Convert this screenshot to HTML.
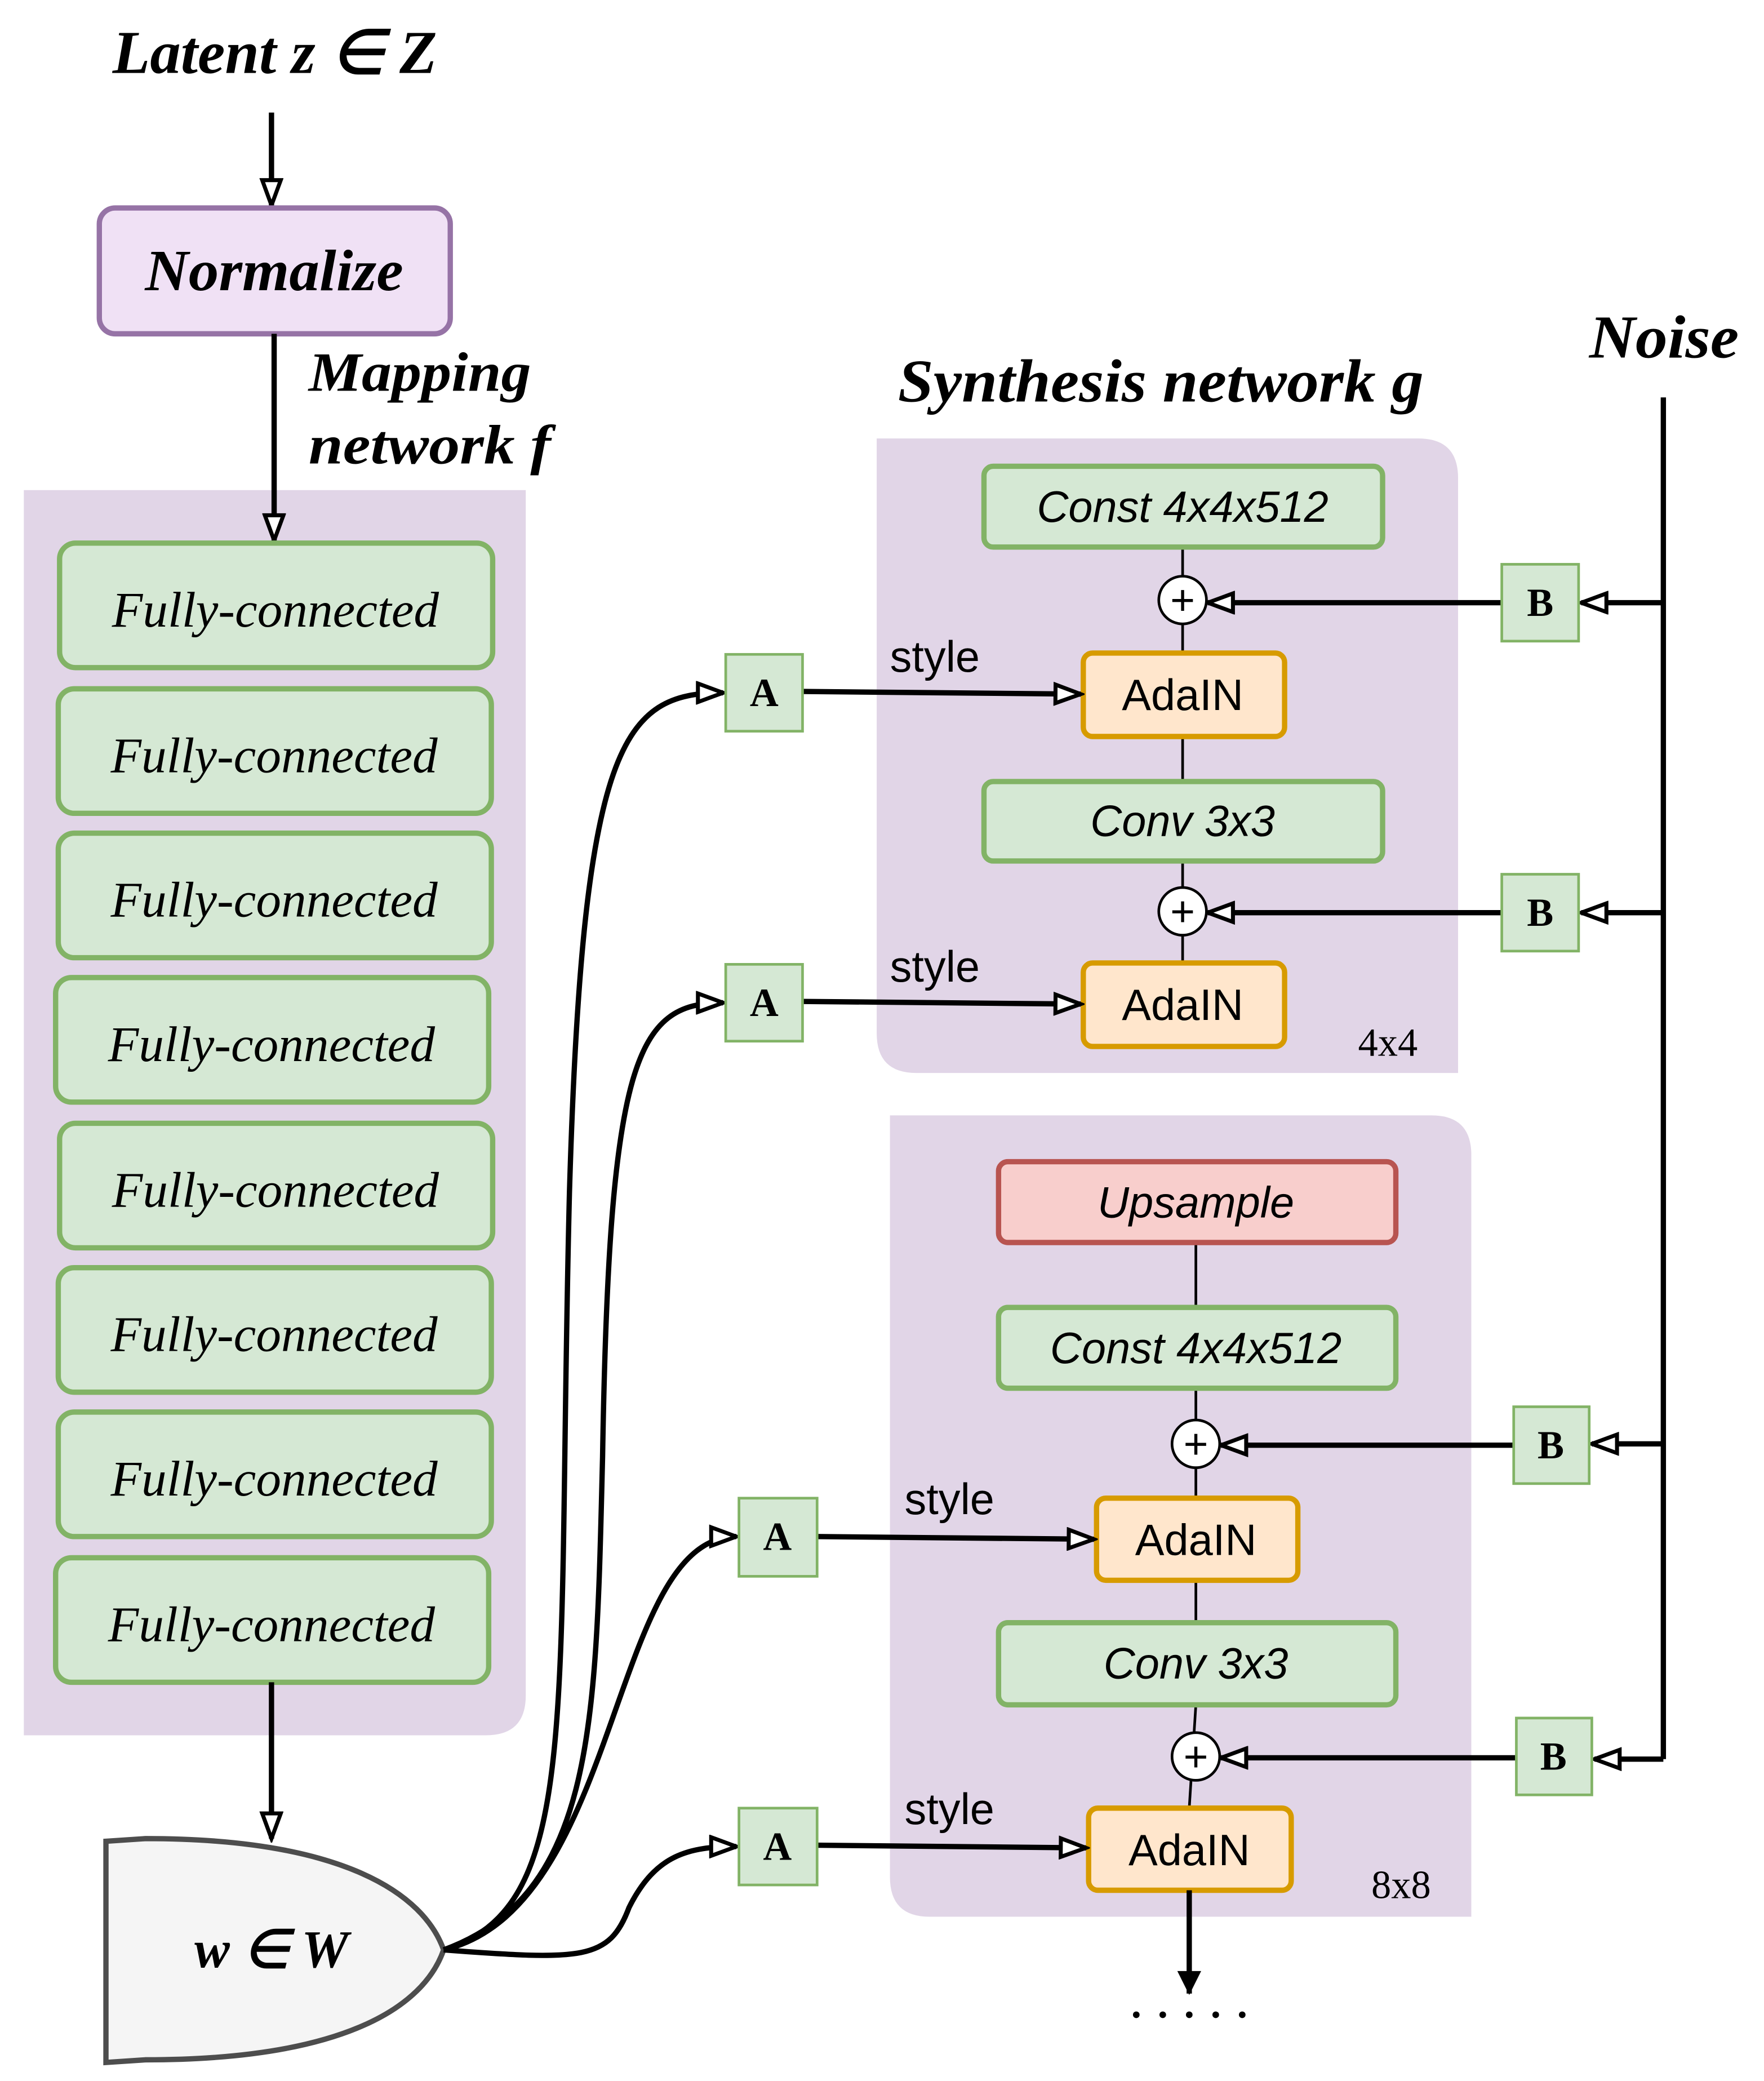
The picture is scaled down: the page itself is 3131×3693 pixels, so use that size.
<!DOCTYPE html>
<html><head><meta charset="utf-8"><style>
html,body{margin:0;padding:0;background:#fff;}
svg{display:block;}
.serif{font-family:"Liberation Serif",serif;}
.sans{font-family:"Liberation Sans",sans-serif;}
</style></head><body>
<svg width="3131" height="3693" viewBox="0 0 1332 1571" preserveAspectRatio="none" xmlns="http://www.w3.org/2000/svg">
<defs>
<marker id="oa2" markerWidth="24" markerHeight="18" refX="21" refY="9" orient="auto" markerUnits="userSpaceOnUse" viewBox="0 0 24 18">
<path d="M2,2 L21,9 L2,16 Z" fill="#fff" stroke="#000" stroke-width="3"/></marker>
<marker id="fa" markerWidth="20" markerHeight="22" refX="18" refY="11" orient="auto" markerUnits="userSpaceOnUse" viewBox="0 0 20 22">
<path d="M1,2 L19,11 L1,20 Z" fill="#000"/></marker>
</defs>
<g class="serif" font-weight="bold" font-style="italic" font-size="46">
<text x="85" y="55" textLength="245" lengthAdjust="spacingAndGlyphs">Latent z ∈ Z</text>
<text x="678" y="303" textLength="397" lengthAdjust="spacingAndGlyphs">Synthesis network g</text>
<text x="1200" y="270" textLength="113" lengthAdjust="spacingAndGlyphs">Noise</text>
</g>
<g class="serif" font-weight="bold" font-style="italic" font-size="42">
<text x="233" y="295" textLength="168" lengthAdjust="spacingAndGlyphs">Mapping</text>
<text x="233" y="350" textLength="183" lengthAdjust="spacingAndGlyphs">network f</text>
</g>
<line x1="205" y1="85" x2="205" y2="155" stroke="#000" stroke-width="4" marker-end="url(#oa2)"/>
<rect x="75" y="157" width="265" height="95" rx="12" fill="#f0e1f5" stroke="#9673a6" stroke-width="4"/>
<text x="207" y="219" text-anchor="middle" class="serif" font-weight="bold" font-style="italic" font-size="44" textLength="195" lengthAdjust="spacingAndGlyphs">Normalize</text>
<path d="M18,370 H397 V1280 Q397,1310 367,1310 H18 Z" fill="#e1d5e7"/>
<line x1="207" y1="252" x2="207" y2="408" stroke="#000" stroke-width="4" marker-end="url(#oa2)"/>
<g fill="#d5e8d4" stroke="#82b366" stroke-width="4">
<rect x="45" y="410" width="327" height="94" rx="12"/>
<rect x="44" y="520" width="327" height="94" rx="12"/>
<rect x="44" y="629" width="327" height="94" rx="12"/>
<rect x="42" y="738" width="327" height="94" rx="12"/>
<rect x="45" y="848" width="327" height="94" rx="12"/>
<rect x="44" y="957" width="327" height="94" rx="12"/>
<rect x="44" y="1066" width="327" height="94" rx="12"/>
<rect x="42" y="1176" width="327" height="94" rx="12"/>
</g>
<g class="serif" font-style="italic" font-size="38" text-anchor="middle">
<text x="208" y="473">Fully-connected</text>
<text x="207" y="583">Fully-connected</text>
<text x="207" y="692">Fully-connected</text>
<text x="205" y="801">Fully-connected</text>
<text x="208" y="911">Fully-connected</text>
<text x="207" y="1020">Fully-connected</text>
<text x="207" y="1129">Fully-connected</text>
<text x="205" y="1239">Fully-connected</text>
</g>
<line x1="205" y1="1270" x2="205" y2="1388" stroke="#000" stroke-width="4" marker-end="url(#oa2)"/>
<path d="M80,1390 L110,1388 C260,1388 320,1430 335,1472 C320,1515 260,1555 110,1555 L80,1557 Z" fill="#f5f5f5" stroke="#4d4d4d" stroke-width="4"/>
<text x="205" y="1485" text-anchor="middle" class="serif" font-weight="bold" font-style="italic" font-size="40">w ∈ W</text>
<path d="M662,331 H1071 Q1101,331 1101,361 V810 H692 Q662,810 662,780 Z" fill="#e1d5e7"/>
<path d="M672,842 H1081 Q1111,842 1111,872 V1447 H702 Q672,1447 672,1417 Z" fill="#e1d5e7"/>
<text x="1048" y="797" text-anchor="middle" class="serif" font-size="30">4x4</text>
<text x="1058" y="1433" text-anchor="middle" class="serif" font-size="30">8x8</text>
<g stroke="#000" stroke-width="2">
<line x1="893" y1="413" x2="893" y2="493"/><line x1="893" y1="556" x2="893" y2="590"/><line x1="893" y1="650" x2="893" y2="727"/>
<line x1="903" y1="938" x2="903" y2="987"/><line x1="903" y1="1048" x2="903" y2="1131"/><line x1="903" y1="1193" x2="903" y2="1225"/><line x1="903" y1="1287" x2="898" y2="1365"/>
</g>
<g fill="#d5e8d4" stroke="#82b366" stroke-width="4">
<rect x="743" y="352" width="301" height="61" rx="7"/>
<rect x="743" y="590" width="301" height="60" rx="7"/>
<rect x="754" y="987" width="300" height="61" rx="7"/>
<rect x="754" y="1225" width="300" height="62" rx="7"/>
</g>
<rect x="754" y="877" width="300" height="61" rx="7" fill="#f8cecc" stroke="#b85450" stroke-width="4"/>
<g fill="#ffe6cc" stroke="#d79b00" stroke-width="4">
<rect x="818" y="493" width="152" height="63" rx="7"/>
<rect x="818" y="727" width="152" height="63" rx="7"/>
<rect x="828" y="1131" width="152" height="62" rx="7"/>
<rect x="822" y="1365" width="153" height="62" rx="7"/>
</g>
<g class="sans" font-size="33" text-anchor="middle">
<text x="893" y="394" font-style="italic">Const 4x4x512</text>
<text x="893" y="631" font-style="italic">Conv 3x3</text>
<text x="903" y="919" font-style="italic">Upsample</text>
<text x="903" y="1029" font-style="italic">Const 4x4x512</text>
<text x="903" y="1267" font-style="italic">Conv 3x3</text>
<text x="893" y="536">AdaIN</text>
<text x="893" y="770">AdaIN</text>
<text x="903" y="1174">AdaIN</text>
<text x="898" y="1408">AdaIN</text>
</g>
<g class="sans" font-size="33">
<text x="672" y="507">style</text><text x="672" y="741">style</text>
<text x="683" y="1143">style</text><text x="683" y="1377">style</text>
</g>
<g stroke="#000" stroke-width="4" fill="none">
<line x1="1256" y1="300" x2="1256" y2="1328"/>
<line x1="1256" y1="455" x2="1194" y2="455" marker-end="url(#oa2)"/>
<line x1="1256" y1="689" x2="1194" y2="689" marker-end="url(#oa2)"/>
<line x1="1256" y1="1090" x2="1202" y2="1090" marker-end="url(#oa2)"/>
<line x1="1256" y1="1328" x2="1204" y2="1328" marker-end="url(#oa2)"/>
<line x1="1134" y1="455" x2="912" y2="455" marker-end="url(#oa2)"/>
<line x1="1134" y1="689" x2="912" y2="689" marker-end="url(#oa2)"/>
<line x1="1143" y1="1091" x2="922" y2="1091" marker-end="url(#oa2)"/>
<line x1="1145" y1="1327" x2="922" y2="1327" marker-end="url(#oa2)"/>
<line x1="606" y1="522" x2="816" y2="524" marker-end="url(#oa2)"/>
<line x1="606" y1="756" x2="816" y2="758" marker-end="url(#oa2)"/>
<line x1="617" y1="1160" x2="826" y2="1162" marker-end="url(#oa2)"/>
<line x1="617" y1="1393" x2="820" y2="1395" marker-end="url(#oa2)"/>
<path d="M335,1472 C440,1440 420,1300 430,900 C440,560 470,523 546,523" marker-end="url(#oa2)"/>
<path d="M335,1472 C450,1430 450,1300 455,1100 C460,800 480,757 546,757" marker-end="url(#oa2)"/>
<path d="M335,1472 C470,1440 460,1160 556,1160" marker-end="url(#oa2)"/>
<path d="M335,1472 C440,1480 460,1480 475,1440 C495,1400 520,1394 556,1394" marker-end="url(#oa2)"/>
<line x1="898" y1="1427" x2="898" y2="1505" marker-end="url(#fa)"/>
</g>
<g fill="#fff" stroke="#000" stroke-width="2">
<circle cx="893" cy="453" r="18"/><circle cx="893" cy="688" r="18"/>
<circle cx="903" cy="1090" r="18"/><circle cx="903" cy="1326" r="18"/>
</g>
<g class="sans" font-size="32" text-anchor="middle">
<text x="893" y="464">+</text><text x="893" y="699">+</text><text x="903" y="1101">+</text><text x="903" y="1337">+</text>
</g>
<g fill="#d5e8d4" stroke="#82b366" stroke-width="2">
<rect x="1134" y="426" width="58" height="58"/><rect x="1134" y="660" width="58" height="58"/>
<rect x="1143" y="1062" width="57" height="58"/><rect x="1145" y="1297" width="57" height="58"/>
<rect x="548" y="494" width="58" height="58"/><rect x="548" y="728" width="58" height="58"/>
<rect x="558" y="1131" width="59" height="59"/><rect x="558" y="1365" width="59" height="58"/>
</g>
<g class="serif" font-weight="bold" font-size="30" text-anchor="middle">
<text x="1163" y="465">B</text><text x="1163" y="699">B</text><text x="1171" y="1101">B</text><text x="1173" y="1336">B</text>
<text x="577" y="533">A</text><text x="577" y="767">A</text><text x="587" y="1170">A</text><text x="587" y="1404">A</text>
</g>
<g fill="#000">
<circle cx="858" cy="1521" r="2.5"/><circle cx="878" cy="1521" r="2.5"/><circle cx="898" cy="1521" r="2.5"/><circle cx="918" cy="1521" r="2.5"/><circle cx="938" cy="1521" r="2.5"/>
</g>
</svg>
</body></html>
